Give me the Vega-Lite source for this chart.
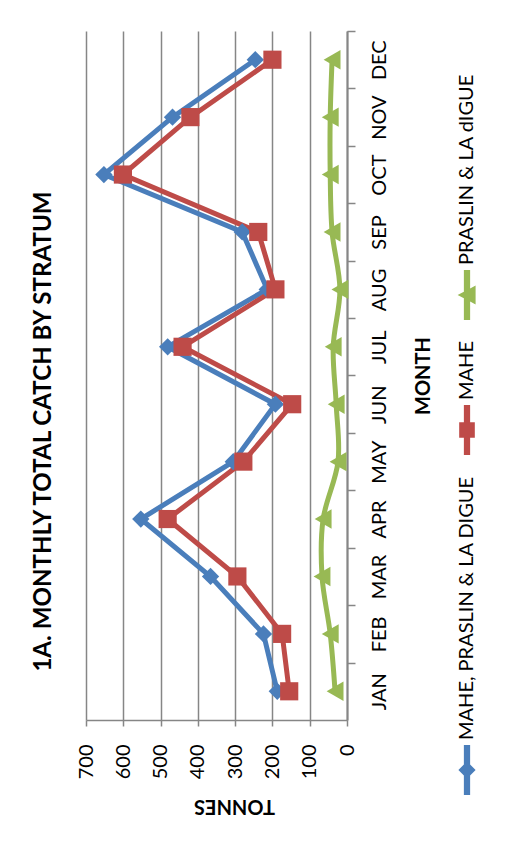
{
  "$schema": "https://vega.github.io/schema/vega-lite/v6.json",
  "width": 261,
  "height": 689,
  "autosize": {"type": "none"},
  "padding": {"left": 86, "top": 31, "right": 163, "bottom": 121},
  "background": "white",
  "title": {
    "text": "1A. MONTHLY TOTAL CATCH BY STRATUM",
    "orient": "left",
    "anchor": "middle",
    "frame": "group",
    "font": "Lato",
    "fontSize": 24.1,
    "fontWeight": "bold",
    "color": "black",
    "offset": 20,
    "dx": -56
  },
  "data": {
    "values": [
      {"month": "JAN", "mi": 1, "series": "MAHE, PRASLIN & LA DIGUE", "tonnes": 187},
      {"month": "FEB", "mi": 2, "series": "MAHE, PRASLIN & LA DIGUE", "tonnes": 224},
      {"month": "MAR", "mi": 3, "series": "MAHE, PRASLIN & LA DIGUE", "tonnes": 366},
      {"month": "APR", "mi": 4, "series": "MAHE, PRASLIN & LA DIGUE", "tonnes": 553},
      {"month": "MAY", "mi": 5, "series": "MAHE, PRASLIN & LA DIGUE", "tonnes": 305},
      {"month": "JUN", "mi": 6, "series": "MAHE, PRASLIN & LA DIGUE", "tonnes": 192},
      {"month": "JUL", "mi": 7, "series": "MAHE, PRASLIN & LA DIGUE", "tonnes": 481},
      {"month": "AUG", "mi": 8, "series": "MAHE, PRASLIN & LA DIGUE", "tonnes": 214},
      {"month": "SEP", "mi": 9, "series": "MAHE, PRASLIN & LA DIGUE", "tonnes": 281},
      {"month": "OCT", "mi": 10, "series": "MAHE, PRASLIN & LA DIGUE", "tonnes": 652},
      {"month": "NOV", "mi": 11, "series": "MAHE, PRASLIN & LA DIGUE", "tonnes": 468},
      {"month": "DEC", "mi": 12, "series": "MAHE, PRASLIN & LA DIGUE", "tonnes": 246},
      {"month": "JAN", "mi": 1, "series": "MAHE", "tonnes": 155},
      {"month": "FEB", "mi": 2, "series": "MAHE", "tonnes": 174},
      {"month": "MAR", "mi": 3, "series": "MAHE", "tonnes": 294},
      {"month": "APR", "mi": 4, "series": "MAHE", "tonnes": 481},
      {"month": "MAY", "mi": 5, "series": "MAHE", "tonnes": 278},
      {"month": "JUN", "mi": 6, "series": "MAHE", "tonnes": 147},
      {"month": "JUL", "mi": 7, "series": "MAHE", "tonnes": 441},
      {"month": "AUG", "mi": 8, "series": "MAHE", "tonnes": 192},
      {"month": "SEP", "mi": 9, "series": "MAHE", "tonnes": 238},
      {"month": "OCT", "mi": 10, "series": "MAHE", "tonnes": 601},
      {"month": "NOV", "mi": 11, "series": "MAHE", "tonnes": 420},
      {"month": "DEC", "mi": 12, "series": "MAHE", "tonnes": 200},
      {"month": "JAN", "mi": 1, "series": "PRASLIN & LA dIGUE", "tonnes": 32},
      {"month": "FEB", "mi": 2, "series": "PRASLIN & LA dIGUE", "tonnes": 45},
      {"month": "MAR", "mi": 3, "series": "PRASLIN & LA dIGUE", "tonnes": 67},
      {"month": "APR", "mi": 4, "series": "PRASLIN & LA dIGUE", "tonnes": 64},
      {"month": "MAY", "mi": 5, "series": "PRASLIN & LA dIGUE", "tonnes": 24},
      {"month": "JUN", "mi": 6, "series": "PRASLIN & LA dIGUE", "tonnes": 29},
      {"month": "JUL", "mi": 7, "series": "PRASLIN & LA dIGUE", "tonnes": 37},
      {"month": "AUG", "mi": 8, "series": "PRASLIN & LA dIGUE", "tonnes": 19},
      {"month": "SEP", "mi": 9, "series": "PRASLIN & LA dIGUE", "tonnes": 40},
      {"month": "OCT", "mi": 10, "series": "PRASLIN & LA dIGUE", "tonnes": 45},
      {"month": "NOV", "mi": 11, "series": "PRASLIN & LA dIGUE", "tonnes": 45},
      {"month": "DEC", "mi": 12, "series": "PRASLIN & LA dIGUE", "tonnes": 40}
    ]
  },
  "encoding": {
    "x": {
      "field": "tonnes",
      "type": "quantitative",
      "scale": {"domain": [0, 700], "reverse": true, "nice": false, "zero": true},
      "axis": {
        "orient": "bottom",
        "values": [0, 100, 200, 300, 400, 500, 600, 700],
        "title": "TONNES",
        "titleAngle": 180,
        "titleFont": "Lato",
        "titleFontSize": 20,
        "titleFontWeight": "bold",
        "titleColor": "black",
        "titleX": 148,
        "titleY": 85,
        "titleAlign": "center",
        "titleBaseline": "middle",
        "labelAngle": 270,
        "labelAlign": "right",
        "labelBaseline": "middle",
        "labelFont": "Lato",
        "labelFontSize": 20,
        "labelColor": "black",
        "labelPadding": 18,
        "labelFlush": false,
        "labelOverlap": false,
        "tickSize": 6,
        "tickColor": "#868686",
        "tickWidth": 1.5,
        "grid": true,
        "gridColor": "#868686",
        "gridWidth": 1.5,
        "domainColor": "#868686",
        "domainWidth": 1.5
      }
    },
    "y": {
      "field": "month",
      "type": "ordinal",
      "sort": ["DEC", "NOV", "OCT", "SEP", "AUG", "JUL", "JUN", "MAY", "APR", "MAR", "FEB", "JAN"],
      "scale": {"type": "point", "padding": 0.5},
      "axis": {
        "orient": "right",
        "title": "MONTH",
        "titleFont": "Lato",
        "titleFontSize": 20,
        "titleFontWeight": "bold",
        "titleColor": "black",
        "titleAngle": 270,
        "titleX": 76,
        "titleY": 344.5,
        "titleAlign": "center",
        "titleBaseline": "middle",
        "labelAngle": 270,
        "labelAlign": "center",
        "labelBaseline": "top",
        "labelFont": "Lato",
        "labelFontSize": 20,
        "labelColor": "black",
        "labelPadding": 14,
        "labelOverlap": false,
        "tickSize": 8,
        "tickColor": "#868686",
        "tickWidth": 1.5,
        "tickOffset": -28.71,
        "labelOffset": 28.71,
        "grid": false,
        "domainColor": "#868686",
        "domainWidth": 2
      }
    },
    "color": {
      "field": "series",
      "type": "nominal",
      "scale": {
        "domain": ["PRASLIN & LA dIGUE", "MAHE", "MAHE, PRASLIN & LA DIGUE"],
        "range": ["#98b954", "#be4b48", "#4a7ebb"]
      },
      "legend": {
        "orient": "none",
        "legendX": 365,
        "legendY": 248,
        "direction": "vertical",
        "title": null,
        "padding": 0,
        "rowPadding": 20,
        "labelFont": "Lato",
        "labelFontSize": 20,
        "labelColor": "black",
        "labelLimit": 400,
        "labelOffset": -16,
        "symbolSize": 977,
        "symbolStrokeWidth": 0,
        "encoding": {
          "symbols": {
            "shape": {
              "condition": [
                {"test": "datum.value === 'MAHE'", "value": "M-0.2,-1.6H0.2V-0.5H0.5V0.5H0.2V1.6H-0.2V0.5H-0.5V-0.5H-0.2Z"},
                {"test": "datum.value === 'PRASLIN & LA dIGUE'", "value": "M-0.2,-1.6H0.2V-0.417L0.55,-0.6V0.6L0.2,0.417V1.6H-0.2V0.209L-0.6,0L-0.2,-0.209Z"}
              ],
              "value": "M-0.2,-1.6H0.2V-0.35L0.55,0L0.2,0.35V1.6H-0.2V0.35L-0.55,0L-0.2,-0.35Z"
            },
            "size": {"value": 977},
            "fill": {
              "condition": [
                {"test": "datum.value === 'MAHE'", "value": "#be4b48"},
                {"test": "datum.value === 'PRASLIN & LA dIGUE'", "value": "#98b954"}
              ],
              "value": "#4a7ebb"
            },
            "stroke": {"value": "transparent"},
            "strokeWidth": {"value": 0},
            "opacity": {"value": 1},
            "fillOpacity": {"value": 1}
          },
          "labels": {
            "angle": {"value": 270},
            "align": {"value": "left"},
            "baseline": {"value": "middle"},
            "dx": {"value": 30}
          }
        }
      }
    }
  },
  "layer": [
    {
      "transform": [{"filter": "datum.series !== 'PRASLIN & LA dIGUE'"}],
      "mark": {"type": "line", "strokeWidth": 5},
      "encoding": {"order": {"field": "mi", "type": "quantitative"}}
    },
    {
      "transform": [{"filter": "datum.series === 'PRASLIN & LA dIGUE'"}],
      "mark": {"type": "line", "strokeWidth": 5, "interpolate": "cardinal"},
      "encoding": {"order": {"field": "mi", "type": "quantitative"}}
    },
    {
      "transform": [{"filter": "datum.series === 'MAHE, PRASLIN & LA DIGUE'"}],
      "mark": {"type": "point", "shape": "diamond", "size": 300, "filled": true, "opacity": 1, "strokeWidth": 0}
    },
    {
      "transform": [{"filter": "datum.series === 'MAHE'"}],
      "mark": {"type": "point", "shape": "square", "size": 330, "filled": true, "opacity": 1, "strokeWidth": 0}
    },
    {
      "transform": [{"filter": "datum.series === 'PRASLIN & LA dIGUE'"}],
      "mark": {"type": "point", "shape": "triangle-left", "size": 380, "filled": true, "opacity": 1, "strokeWidth": 0}
    }
  ],
  "config": {
    "view": {"stroke": null},
    "font": "Lato"
  }
}
